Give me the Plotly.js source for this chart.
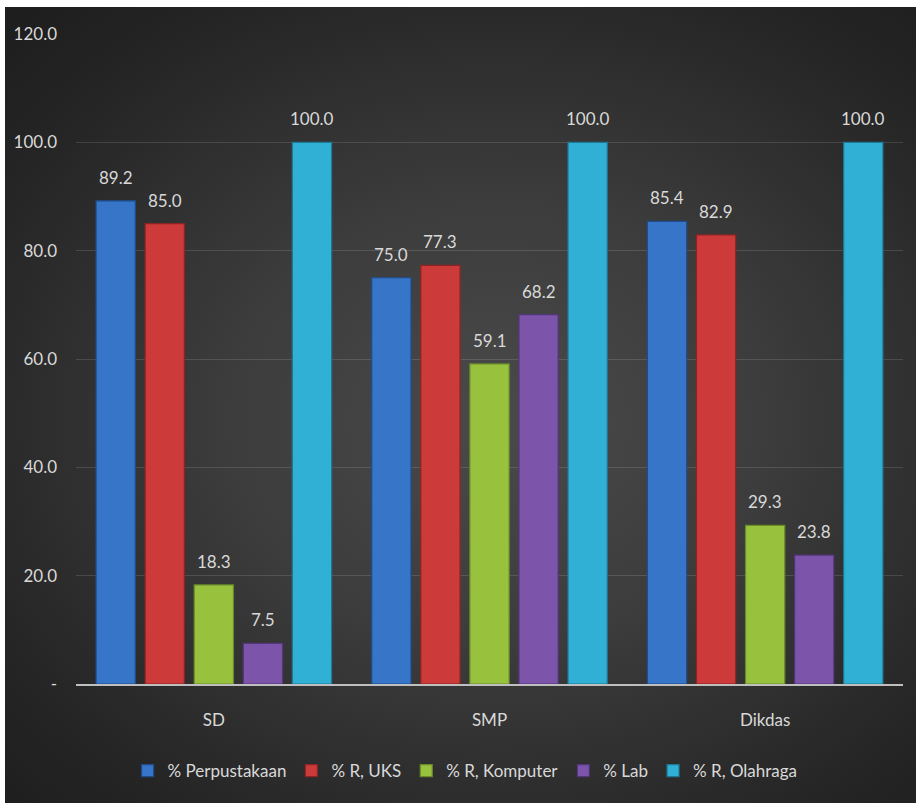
<!DOCTYPE html>
<html>
<head>
<meta charset="utf-8">
<script src="https://cdn.plot.ly/plotly-3.0.1.min.js"></script>
<style>
  html, body { margin: 0; padding: 0; background: #ffffff; width: 916px; height: 803px; overflow: hidden; }
  #chart {
    position: absolute; left: 5px; top: 7px; width: 911px; height: 796px;
    background: radial-gradient(ellipse 75% 70% at 54% 52%, #4a4a4a 0%, #3c3c3c 40%, #262626 80%, #1e1e1e 100%);
  }
</style>
</head>
<body>
<div id="chart"></div>
<script>
// ---- data ----
const categories = ["SD", "SMP", "Dikdas"];
const seriesNames = ["% Perpustakaan", "% R, UKS", "% R, Komputer", "% Lab", "% R, Olahraga"];
const perpustakaan = [89.2, 75.0, 85.4];
const rUks = [85.0, 77.3, 82.9];
const rKomputer = [18.3, 59.1, 29.3];
const lab = [7.5, 68.2, 23.8];
const rOlahraga = [100.0, 100.0, 100.0];
const yTickVals = [0, 20, 40, 60, 80, 100, 120];
const yTickText = ["-", "20.0", "40.0", "60.0", "80.0", "100.0", "120.0"];

// ---- styles ----
const seriesValues = [perpustakaan, rUks, rKomputer, lab, rOlahraga];
const fills = ["#3675c8", "#cc3a3a", "#98c23e", "#7c54aa", "#30b0d4"];
const edges = ["#1f4d8c", "#8c2424", "#6a8a2a", "#52357a", "#1d7894"];
const FONT = "Lato, 'Open Sans', sans-serif";
const TXT = "#d9d9d9";
const FS = 17;

const W = 911, H = 796;
const margin = {l: 71, r: 13, t: 27, b: 119, pad: 0};
const bargap = 0.11, bargroupgap = 0.2;

const traces = seriesValues.map((vals, i) => ({
  type: "bar",
  name: seriesNames[i],
  x: categories,
  y: vals,
  marker: {color: fills[i], line: {color: edges[i], width: 1.2}},
  hoverinfo: "none"
}));

// value labels above bars
const plotW = W - margin.l - margin.r;
const pitch = (plotW / categories.length) * (1 - bargap) / seriesValues.length;
const annotations = [];
seriesValues.forEach((vals, i) => {
  vals.forEach((v, j) => {
    annotations.push({
      x: categories[j], y: v, xref: "x", yref: "y",
      xshift: (i - (seriesValues.length - 1) / 2) * pitch,
      yshift: 11, yanchor: "bottom", xanchor: "center",
      text: v.toFixed(1), showarrow: false,
      font: {family: FONT, size: FS, color: TXT}
    });
  });
});

const layout = {
  width: W, height: H,
  margin: margin,
  paper_bgcolor: "rgba(0,0,0,0)",
  plot_bgcolor: "rgba(0,0,0,0)",
  barmode: "group",
  bargap: bargap,
  bargroupgap: bargroupgap,
  font: {family: FONT, size: FS, color: TXT},
  xaxis: {
    showline: true, linecolor: "#bfbfbf", linewidth: 2,
    showgrid: false, zeroline: false, ticks: "",
    ticklabelstandoff: 20,
    tickfont: {family: FONT, size: FS, color: TXT},
    fixedrange: true
  },
  yaxis: {
    range: [0, 120],
    tickvals: yTickVals, ticktext: yTickText,
    showgrid: true, gridcolor: "rgba(255,255,255,0.13)", gridwidth: 1,
    zeroline: false, showline: false, ticks: "",
    ticklabelstandoff: 18,
    tickfont: {family: FONT, size: FS, color: TXT},
    fixedrange: true
  },
  showlegend: true,
  legend: {
    orientation: "h",
    xref: "container", yref: "container",
    x: 0.505, xanchor: "center",
    y: 0.04, yanchor: "middle",
    font: {family: FONT, size: FS, color: TXT},
    itemwidth: 30,
    bgcolor: "rgba(0,0,0,0)",
    itemclick: false, itemdoubleclick: false
  },
  annotations: annotations
};

Plotly.newPlot("chart", traces, layout, {displayModeBar: false, staticPlot: true});
</script>
</body>
</html>
